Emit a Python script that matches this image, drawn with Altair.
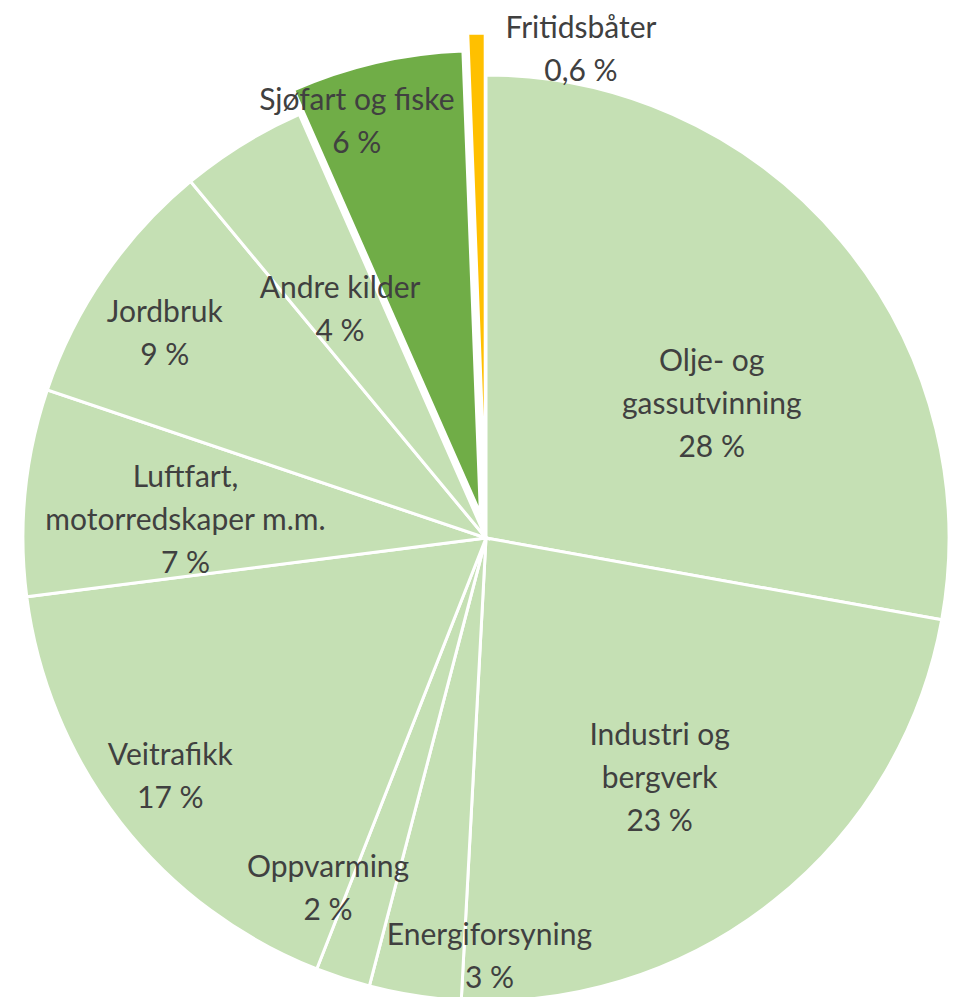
import math
import altair as alt
import pandas as pd

# ---- data ----
categories = [
    "Olje- og gassutvinning",
    "Industri og bergverk",
    "Energiforsyning",
    "Oppvarming",
    "Veitrafikk",
    "Luftfart, motorredskaper m.m.",
    "Jordbruk",
    "Andre kilder",
    "Sjøfart og fiske",
    "Fritidsbåter",
]
values = [27.8, 23.0, 3.2, 1.9, 17.0, 7.2, 8.8, 4.4, 6.0, 0.6]

# ---- styles ----
wrapped = {
    "Olje- og gassutvinning": "Olje- og\ngassutvinning",
    "Industri og bergverk": "Industri og\nbergverk",
    "Luftfart, motorredskaper m.m.": "Luftfart,\nmotorredskaper m.m.",
}
colors = {c: "#C5E0B4" for c in categories}
colors["Sjøfart og fiske"] = "#70AD47"
colors["Fritidsbåter"] = "#FFC000"
explode = {"Sjøfart og fiske": 25, "Fritidsbåter": 42}
# label placement: (radius px, angle shift deg from slice middle)
label_place = {
    "Olje- og gassutvinning": (262, 9.4),
    "Industri og bergverk": (297, 2.6),
    "Energiforsyning": (420, -9.3),
    "Oppvarming": (385, 6.2),
    "Veitrafikk": (396, 0.8),
    "Luftfart, motorredskaper m.m.": (301, -2.5),
    "Jordbruk": (380, -2.2),
    "Andre kilder": (270, -1.0),
    "Sjøfart og fiske": (435, -4.3),
    "Fritidsbåter": (497, 12.1),
}
W, H = 943, 989
CX, CY = 478, 530
R = 463
LH = 43

total = sum(values)
rows = []
cum = 0.0
for c, v in zip(categories, values):
    a0 = cum / total * 2 * math.pi
    cum += v
    a1 = cum / total * 2 * math.pi
    mid = (a0 + a1) / 2
    d = explode.get(c, 0)
    lr, ls = label_place[c]
    la = mid + math.radians(ls)
    pct = f"{round(v)} %" if v >= 1 else f"{v:.1f}".replace(".", ",") + " %"
    text = wrapped.get(c, c) + "\n" + pct
    n = text.count("\n") + 1
    rows.append({
        "cat": c,
        "value": v,
        "a0": a0,
        "a1": a1,
        "ax": CX + d * math.sin(mid),
        "ay": CY - d * math.cos(mid),
        "lx": CX + lr * math.sin(la),
        "ly": CY - lr * math.cos(la) - (n - 1) * LH / 2,
        "label": text,
    })
df = pd.DataFrame(rows)

arcs = alt.Chart(df).mark_arc(radius=R, stroke="white", strokeWidth=3).encode(
    x=alt.X("ax:Q", scale=None, axis=None),
    y=alt.Y("ay:Q", scale=None, axis=None),
    theta=alt.Theta("a0:Q", scale=None),
    theta2="a1:Q",
    color=alt.Color("cat:N", scale=alt.Scale(domain=categories, range=[colors[c] for c in categories]), legend=None),
)

labels = alt.Chart(df).mark_text(
    font="Lato", fontSize=30, color="#404040", lineBreak="\n", lineHeight=LH,
    align="center", baseline="middle",
).encode(
    x=alt.X("lx:Q", scale=None, axis=None),
    y=alt.Y("ly:Q", scale=None, axis=None),
    text="label:N",
)

chart = (arcs + labels).properties(
    width=W, height=H, autosize=alt.AutoSizeParams(type="none"), padding=0
).configure_view(stroke=None)

chart.save("out.html", embed_options={"renderer": "svg", "actions": False})
